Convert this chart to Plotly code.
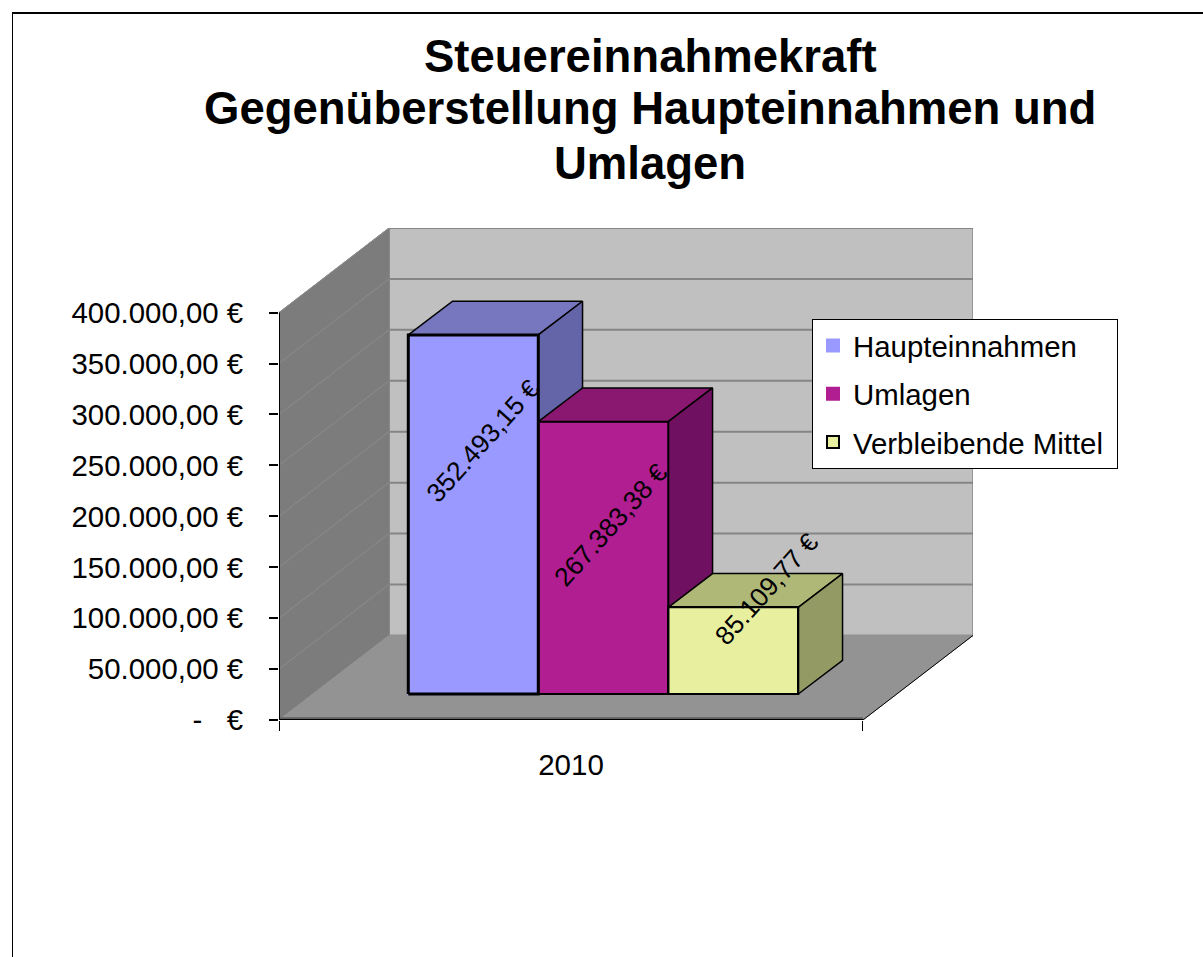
import plotly.graph_objects as go

TITLE_LINES = ["Steuereinnahmekraft", "Gegenüberstellung Haupteinnahmen und", "Umlagen"]
CATEGORY = "2010"
SERIES = ["Haupteinnahmen", "Umlagen", "Verbleibende Mittel"]
VALUES = [352493.15, 267383.38, 85109.77]
Y_TICKS = [0, 50000, 100000, 150000, 200000, 250000, 300000, 350000, 400000]
Y_TICK_LABELS = ["-\u00a0\u00a0\u00a0€", "50.000,00 €", "100.000,00 €", "150.000,00 €",
                 "200.000,00 €", "250.000,00 €", "300.000,00 €", "350.000,00 €",
                 "400.000,00 €"]

FRONT_COLORS = ["#9999FF", "#B01E92", "#E8F0A0"]
TOP_COLORS = ["#7777C0", "#8A1770", "#B0B878"]
SIDE_COLORS = ["#6464A8", "#701060", "#949A64"]

# Oblique projection of the box, x in floor widths, y in euros
DEPTH_X = 0.1884
DEPTH_Y = 83050
BAR_WIDTH = 0.2226
BAR_LEFT = 0.2214
BAR_BASE = 25550
BAR_DEPTH_X = 0.0758
BAR_DEPTH_Y = 33100
LABEL_X = [0.349, 0.568, 0.835]
LABEL_Y = [274200, 191500, 128700]
TITLE_Y_PX = [57, 108, 163]

# Plot area in pixels
LEFT, RIGHT, TOP, BOTTOM = 279, 973, 228, 720
FONT = "Liberation Sans, Arial, sans-serif"


def label(v):
    """Format a value the German way: 352.493,15 €"""
    s = f"{v:,.2f}".replace(",", "#").replace(".", ",").replace("#", ".")
    return s + " €"


def polygon(xs, ys, fill, line_color, line_width):
    return go.Scatter(x=xs, y=ys, mode="lines", fill="toself", fillcolor=fill,
                      line=dict(color=line_color, width=line_width),
                      showlegend=False, hoverinfo="skip", cliponaxis=False)


def line(xs, ys, color, width, **kwargs):
    return go.Scatter(x=xs, y=ys, mode="lines", line=dict(color=color, width=width),
                      showlegend=False, hoverinfo="skip", cliponaxis=False, **kwargs)


fig = go.Figure()

wall_top = Y_TICKS[-1] + DEPTH_Y

# Walls and floor
fig.add_trace(polygon([DEPTH_X, 1 + DEPTH_X, 1 + DEPTH_X, DEPTH_X, DEPTH_X],
                      [DEPTH_Y, DEPTH_Y, wall_top, wall_top, DEPTH_Y],
                      "#C0C0C0", "#969696", 2))
fig.add_trace(polygon([0, 0, DEPTH_X, DEPTH_X, 0],
                      [0, Y_TICKS[-1], wall_top, DEPTH_Y, 0],
                      "#7C7C7C", "#7C7C7C", 1))
fig.add_trace(polygon([0, 1, 1 + DEPTH_X, DEPTH_X, 0],
                      [0, 0, DEPTH_Y, DEPTH_Y, 0],
                      "#939393", "#939393", 1))

# Gridlines on both walls
for t in Y_TICKS[1:]:
    fig.add_trace(line([DEPTH_X, 1 + DEPTH_X], [t + DEPTH_Y, t + DEPTH_Y], "#858585", 2))
    fig.add_trace(line([0, DEPTH_X], [t, t + DEPTH_Y], "#8C8C8C", 1))

# Axis edges, with the dark front lip of the floor
fig.add_trace(line([0, 1], [1800, 1800], "#606060", 2))
fig.add_trace(line([1, 1 + DEPTH_X], [0, DEPTH_Y], "#000000", 1))
fig.add_trace(line([0, 0], [0, Y_TICKS[-1]], "#000000", 2))
fig.add_trace(line([0, 1], [0, 0], "#000000", 2))

# Top and side of every bar, left to right so the next bar hides the previous one
for i, v in enumerate(VALUES):
    x0 = BAR_LEFT + i * BAR_WIDTH
    x1 = x0 + BAR_WIDTH
    y0 = BAR_BASE
    y1 = BAR_BASE + v
    fig.add_trace(polygon([x0, x1, x1 + BAR_DEPTH_X, x0 + BAR_DEPTH_X, x0],
                          [y1, y1, y1 + BAR_DEPTH_Y, y1 + BAR_DEPTH_Y, y1],
                          TOP_COLORS[i], "#000000", 1.5))
    fig.add_trace(polygon([x1, x1 + BAR_DEPTH_X, x1 + BAR_DEPTH_X, x1, x1],
                          [y0, y0 + BAR_DEPTH_Y, y1 + BAR_DEPTH_Y, y1, y0],
                          SIDE_COLORS[i], "#000000", 1.5))

# Front faces sit on an overlaying pair of axes, otherwise scatter fills cover them.
# The marker line only shapes the legend swatch, the outline comes after.
# Trailing nbsp widens the legend box, entrywidth has no effect on it here.
for i, v in enumerate(VALUES):
    x0 = BAR_LEFT + i * BAR_WIDTH
    fig.add_trace(go.Bar(x=[x0 + BAR_WIDTH / 2], y=[v], base=BAR_BASE, width=BAR_WIDTH,
                         name=SERIES[i] + "\u00a0", legendgroup=SERIES[i],
                         xaxis="x2", yaxis="y2",
                         marker=dict(color=FRONT_COLORS[i],
                                     line=dict(color="#000000" if i == 2 else FRONT_COLORS[i],
                                               width=2)),
                         hoverinfo="name+y"))
for i, v in enumerate(VALUES):
    x0 = BAR_LEFT + i * BAR_WIDTH
    x1 = x0 + BAR_WIDTH
    fig.add_trace(line([x0, x1, x1, x0, x0],
                       [BAR_BASE, BAR_BASE, BAR_BASE + v, BAR_BASE + v, BAR_BASE],
                       "#000000", 3 if i == 0 else 2, xaxis="x2", yaxis="y2"))

# Rotated data labels
for i, v in enumerate(VALUES):
    fig.add_annotation(x=LABEL_X[i], y=LABEL_Y[i], text=label(v), textangle=-48,
                       showarrow=False, xref="x2", yref="y2",
                       font=dict(family=FONT, size=26.3, color="#000000"))

px_x = lambda p: (p - LEFT) / (RIGHT - LEFT)
px_y = lambda p: (BOTTOM - p) / (BOTTOM - TOP)

# Title lines are placed one by one, the original line spacing is tighter than plotly's
for text, y_px in zip(TITLE_LINES, TITLE_Y_PX):
    fig.add_annotation(x=px_x(650), y=px_y(y_px), text=text, showarrow=False,
                       xref="paper", yref="paper", xanchor="center", yanchor="middle",
                       font=dict(family=FONT, size=45.5, color="#000000", weight="bold"))

x_range = [0, 1 + DEPTH_X]
y_range = [0, wall_top]
fig.update_layout(
    width=1203,
    height=957,
    margin=dict(l=LEFT, r=1203 - RIGHT, t=TOP, b=957 - BOTTOM, pad=0, autoexpand=False),
    paper_bgcolor="#FFFFFF",
    plot_bgcolor="rgba(0,0,0,0)",
    font=dict(family=FONT, size=29, color="#000000"),
    bargap=0,
    barmode="overlay",
    xaxis=dict(range=x_range, showgrid=False, zeroline=False, showline=False,
               tickmode="array", tickvals=[0.5], ticktext=[CATEGORY], ticks="",
               ticklabelstandoff=24, tickfont=dict(size=29.5),
               minor=dict(tickmode="array", tickvals=[0, 1], ticks="outside",
                          ticklen=10, tickwidth=1, tickcolor="#000000", showgrid=False)),
    yaxis=dict(range=y_range, showgrid=False, zeroline=False, showline=False,
               tickmode="array", tickvals=Y_TICKS, ticktext=Y_TICK_LABELS,
               ticks="outside", ticklen=9, tickwidth=1.5, tickcolor="#000000",
               ticklabelstandoff=20, tickfont=dict(size=29.4)),
    xaxis2=dict(range=x_range, overlaying="x", visible=False),
    yaxis2=dict(range=y_range, overlaying="y", visible=False),
    legend=dict(xref="container", yref="container", x=812 / 1203, y=1 - 319 / 957,
                xanchor="left", yanchor="top", bgcolor="#FFFFFF",
                bordercolor="#000000", borderwidth=1,
                traceorder="grouped", tracegroupgap=7, itemwidth=30,
                font=dict(family=FONT, size=29.4)),
)

# Frame of the pasted chart, only its top and left edge are in view
fig.add_shape(type="line", xref="paper", yref="paper", x0=px_x(12), x1=px_x(1203),
              y0=px_y(13), y1=px_y(13), line=dict(color="#000000", width=2))
fig.add_shape(type="line", xref="paper", yref="paper", x0=px_x(12.5), x1=px_x(12.5),
              y0=px_y(13), y1=px_y(957), line=dict(color="#000000", width=1))

fig.write_html("out.html", config={"displayModeBar": False},
               post_script="document.body.style.margin='0';")
